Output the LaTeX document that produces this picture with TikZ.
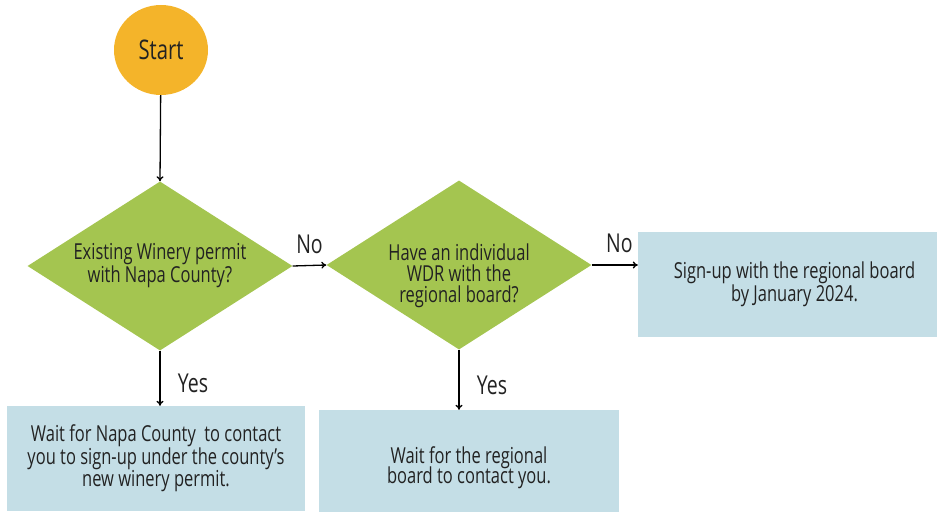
\documentclass[tikz,border=0pt]{standalone}
\usepackage{fontspec}
\setmainfont{Open Sans}[FakeStretch=0.75]
\usetikzlibrary{shapes.geometric,arrows.meta}
\definecolor{startorange}{HTML}{F4B42A}
\definecolor{decgreen}{HTML}{A4C550}
\definecolor{boxblue}{HTML}{C4DEE6}
\definecolor{inktext}{HTML}{222222}
% lines set lower than the node centre, same extents
\newcommand{\lowtext}[2]{\raisebox{-#1}[\height][\depth]{\begin{tabular}{@{}c@{}}#2\end{tabular}}}

\begin{document}
\begin{tikzpicture}[x=1pt,y=-1pt,
  startnode/.style={ellipse,fill=startorange,minimum width=94pt,minimum height=90pt,
    text=inktext,font=\fontsize{27}{30}\selectfont},
  decision/.style={diamond,fill=decgreen,minimum width=265pt,minimum height=169pt,
    aspect=1.57,inner sep=0pt,align=center,text=inktext,font=\fontsize{22}{20}\selectfont},
  outcome/.style={rectangle,fill=boxblue,align=center,text=inktext,
    font=\fontsize{22}{19.5}\selectfont},
  flow/.style={-{To[length=5pt,width=7pt]},line width=1.3pt,black},
  lbl/.style={text=inktext,font=\fontsize{26}{28}\selectfont}]
  \useasboundingbox (0,0) rectangle (937,513);
  \node[startnode] (start) at (161,50) {Start};
  \node[decision] (dec1) at (160,266) {Existing Winery permit\\with Napa County?};
  \node[decision] (dec2) at (459,265)
    {\lowtext{11pt}{Have an individual\\[-2pt]WDR with the\\[-2pt]regional board?}};
  \node[outcome,minimum width=299pt,minimum height=105pt] (signup) at (787.5,284.5)
    {\hspace*{14pt}Sign-up with the regional board\\\hspace*{14pt}by January 2024.};
  \node[outcome,minimum width=298pt,minimum height=105pt] (wait1) at (156,458.5)
    {Wait for Napa County\ \ to contact\\you to sign-up under the county's\\new winery permit.};
  \node[outcome,minimum width=300pt,minimum height=102pt] (wait2) at (469,461)
    {\lowtext{7pt}{Wait for the regional\\[-2pt]board to contact you.}};
  \draw[flow] (start) -- (dec1.north);
  \draw[flow] (dec1.east) -- node[lbl,above=8pt] {No} (dec2.west);
  \draw[flow] (dec2.east) -- node[lbl,above=8pt,pos=0.6] {No} (dec2.east -| signup.west);
  \draw[flow] (dec1.south) -- node[lbl,right=14pt,pos=0.6] {Yes} (dec1.south |- wait1.north);
  \draw[flow] (dec2.south) -- node[lbl,right=14pt,pos=0.6] {Yes} (dec2.south |- wait2.north);
\end{tikzpicture}
\end{document}
